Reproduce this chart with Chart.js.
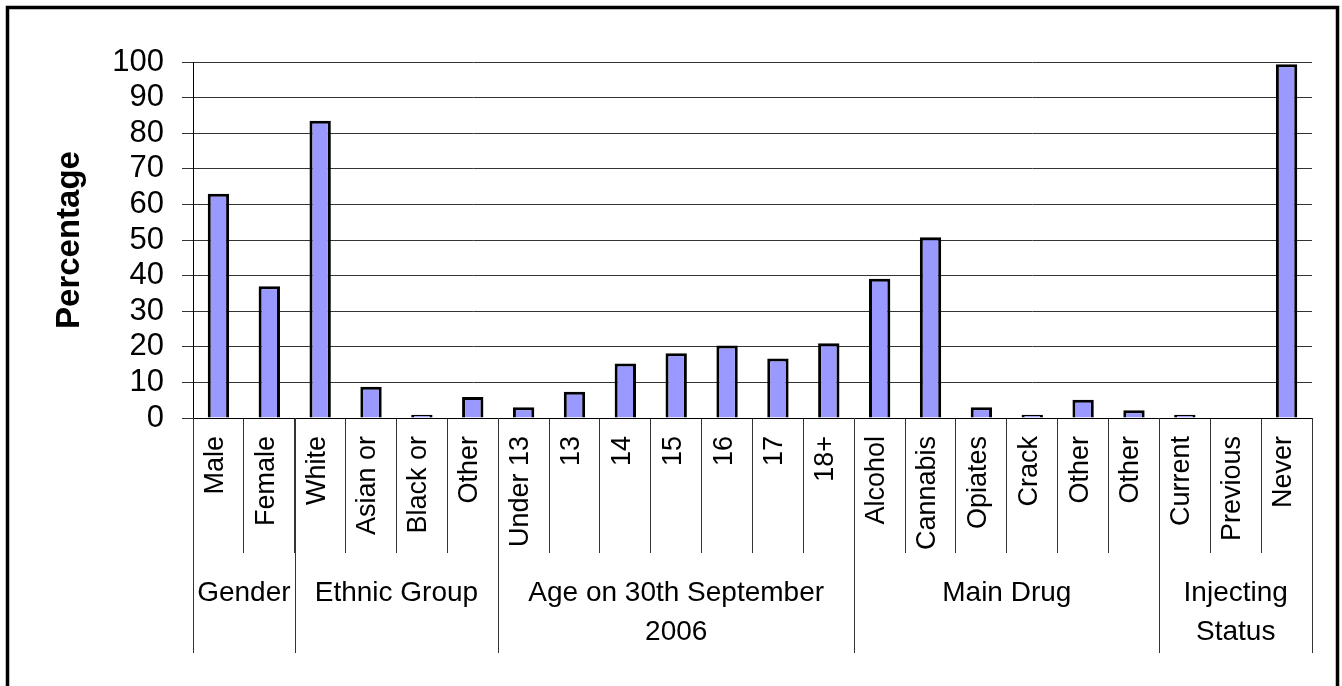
<!DOCTYPE html>
<html><head><meta charset="utf-8">
<script src="https://cdn.jsdelivr.net/npm/chart.js@4/dist/chart.umd.min.js"></script>
<style>html,body{margin:0;padding:0;background:#fff;overflow:hidden}</style>
</head><body>
<canvas id="c" width="1342" height="686" style="display:block;width:1342px;height:686px"></canvas>
<script>
const categories = ['Male','Female','White','Asian or','Black or','Other','Under 13','13','14','15','16','17','18+','Alcohol','Cannabis','Opiates','Crack','Other','Other','Current','Previous','Never'];
const percentages = [63, 37, 83.5, 8.8, 0.9, 5.9, 3.0, 7.4, 15.3, 18.2, 20.4, 16.7, 21.0, 39.1, 50.8, 3.0, 0.9, 5.1, 2.2, 0.9, 0, 99.4];
const groupNames = [['Gender'], ['Ethnic Group'], ['Age on 30th September', '2006'], ['Main Drug'], ['Injecting', 'Status']];
const groupSizes = [2, 4, 7, 6, 3];
const yMin = 0, yMax = 100, yStep = 10;
const yTitle = 'Percentage';

const FONT = '"Liberation Sans", Arial, sans-serif';

const groupPlugin = {
  id: 'groups',
  afterDraw(chart) {
    const ctx = chart.ctx;
    const x = chart.scales.x;
    const axisY = chart.chartArea.bottom;
    ctx.save();
    ctx.strokeStyle = '#000';
    ctx.lineWidth = 3.5;
    ctx.strokeRect(7.5, 7.5, 1330, 690);
    ctx.strokeStyle = '#333';
    ctx.lineWidth = 1;
    let start = 0;
    const edges = [start];
    groupSizes.forEach(s => { start += s; edges.push(start); });
    edges.forEach(e => {
      const px = Math.round(x.getPixelForValue(e - 0.5)) + 0.5;
      ctx.beginPath();
      ctx.moveTo(px, axisY);
      ctx.lineTo(px, 653);
      ctx.stroke();
    });
    ctx.fillStyle = '#000';
    ctx.font = '28px ' + FONT;
    ctx.textAlign = 'center';
    ctx.textBaseline = 'middle';
    for (let g = 0; g < groupSizes.length; g++) {
      const l = x.getPixelForValue(edges[g] - 0.5);
      const r = x.getPixelForValue(edges[g + 1] - 0.5);
      const cx = (l + r) / 2;
      groupNames[g].forEach((line, i) => {
        ctx.fillText(line, cx, 593 + i * 39);
      });
    }
    ctx.restore();
  }
};

new Chart(document.getElementById('c'), {
  type: 'bar',
  data: {
    labels: categories,
    datasets: [{
      data: percentages,
      backgroundColor: '#9999FF',
      borderColor: '#000',
      borderWidth: 3,
      barPercentage: 0.42,
      categoryPercentage: 1
    }]
  },
  options: {
    responsive: false,
    devicePixelRatio: 1,
    animation: false,
    layout: { padding: { top: 62, right: 30, left: 0, bottom: 0 } },
    plugins: { legend: { display: false }, tooltip: { enabled: false } },
    scales: {
      x: {
        offset: true,
        grid: { display: true, offset: true, drawOnChartArea: false, tickLength: 135, color: '#333', lineWidth: 1 },
        border: { display: true, color: '#000', width: 1 },
        ticks: {
          autoSkip: false, minRotation: 90, maxRotation: 90,
          padding: -117, labelOffset: -3,
          color: '#000', font: { family: FONT, size: 27 }
        },
        afterFit(scale) { scale.height = 686 - 418; }
      },
      y: {
        min: yMin, max: yMax,
        grid: { color: '#333', lineWidth: 1, tickLength: 11 },
        border: { display: true, color: '#000', width: 1 },
        ticks: { stepSize: yStep, autoSkip: false, padding: 18, color: '#000', font: { family: FONT, size: 31 } },
        title: { display: true, text: yTitle, color: '#000', font: { family: FONT, size: 33, weight: 'bold' }, padding: { top: 50, bottom: 0 } },
        afterFit(scale) { scale.width = 193; }
      }
    }
  },
  plugins: [groupPlugin]
});
</script>
</body></html>
